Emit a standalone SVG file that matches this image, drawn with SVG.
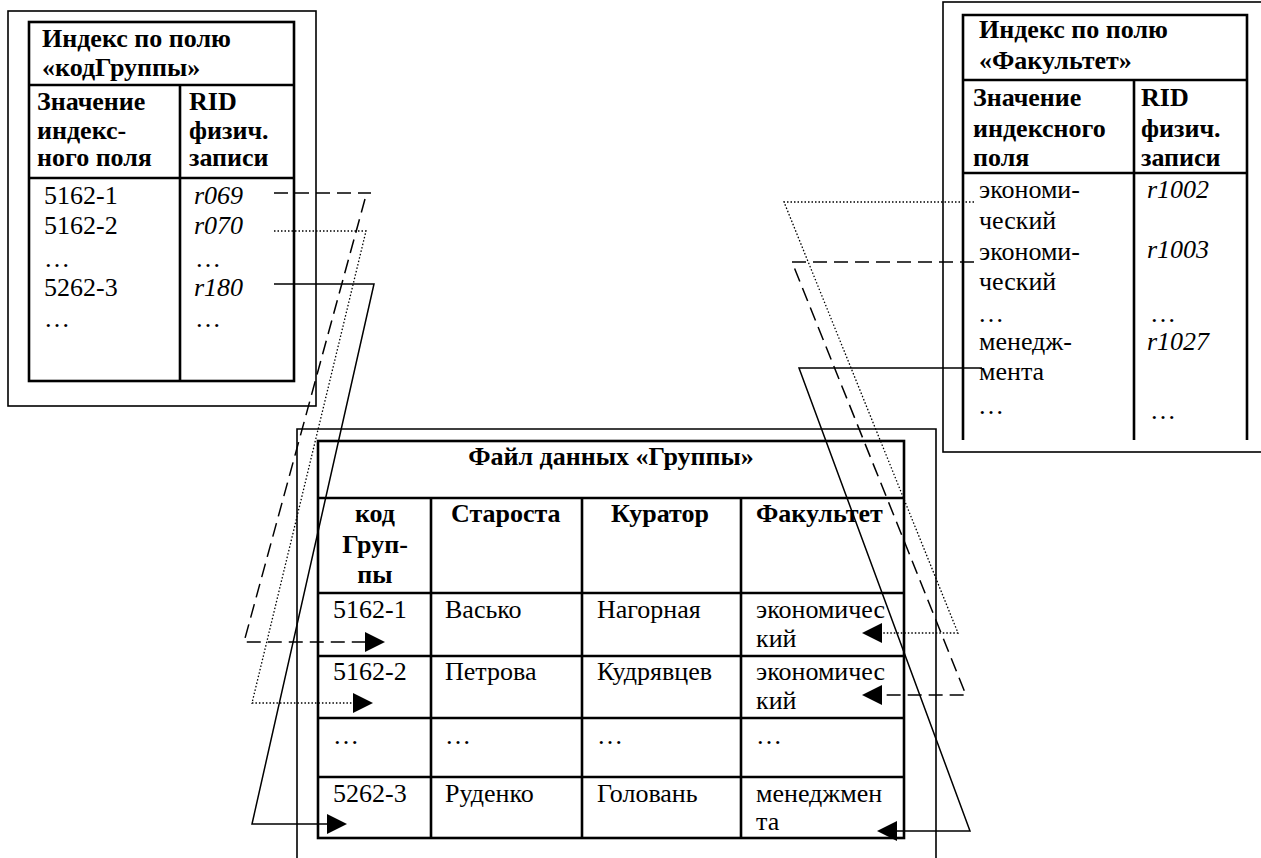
<svg xmlns="http://www.w3.org/2000/svg" width="1261" height="858" viewBox="0 0 1261 858">
<style>
text{font-family:"Liberation Serif","Times New Roman",serif;font-size:26px;fill:#000}
.b{font-weight:bold}
.i{font-style:italic}
.frame{fill:none;stroke:#000;stroke-width:1.6}
.tbl{fill:none;stroke:#000;stroke-width:2.6}
.c{fill:none;stroke:#000;stroke-width:1.5}
.dash{stroke-dasharray:14 7}
.dot{stroke-width:1.3;stroke-dasharray:1.5 2}
.ah{fill:#000;stroke:none}
</style>
<rect width="1261" height="858" fill="#fff"/>

<g id="index-kodGruppy">
<rect class="frame" x="8" y="11" width="308" height="395"/>
<rect class="tbl" x="29" y="22" width="265" height="359"/>
<line class="tbl" x1="29" y1="85" x2="294" y2="85"/>
<line class="tbl" x1="29" y1="178" x2="294" y2="178"/>
<line class="tbl" x1="180" y1="85" x2="180" y2="381"/>
<text class="b" x="42" y="47">Индекс по полю</text>
<text class="b" x="42" y="76">«кодГруппы»</text>
<text class="b" x="37" y="110">Значение</text>
<text class="b" x="37" y="139">индекс-</text>
<text class="b" x="37" y="166">ного поля</text>
<text class="b" x="189" y="110">RID</text>
<text class="b" x="189" y="139">физич.</text>
<text class="b" x="189" y="166">записи</text>
<text x="44" y="204">5162-1</text>
<text x="44" y="234">5162-2</text>
<text x="44" y="267">…</text>
<text x="44" y="296">5262-3</text>
<text x="44" y="327">…</text>
<text class="i" x="194" y="204">r069</text>
<text class="i" x="194" y="234">r070</text>
<text x="195" y="267">…</text>
<text class="i" x="194" y="296">r180</text>
<text x="195" y="327">…</text>
</g>

<g id="index-fakultet">
<rect class="frame" x="943" y="2" width="330" height="450"/>
<polyline class="tbl" points="963,440 963,15 1247,15 1247,440"/>
<line class="tbl" x1="963" y1="80" x2="1247" y2="80"/>
<line class="tbl" x1="963" y1="173" x2="1247" y2="173"/>
<line class="tbl" x1="1134" y1="80" x2="1134" y2="440"/>
<text class="b" x="979" y="38">Индекс по полю</text>
<text class="b" x="979" y="69">«Факультет»</text>
<text class="b" x="973" y="106">Значение</text>
<text class="b" x="973" y="137">индексного</text>
<text class="b" x="973" y="166">поля</text>
<text class="b" x="1141" y="106">RID</text>
<text class="b" x="1141" y="137">физич.</text>
<text class="b" x="1141" y="166">записи</text>
<text x="979" y="198">экономи-</text>
<text x="979" y="229">ческий</text>
<text x="979" y="260">экономи-</text>
<text x="979" y="290">ческий</text>
<text x="978" y="322">…</text>
<text x="979" y="350">менедж-</text>
<text x="979" y="380">мента</text>
<text x="978" y="414">…</text>
<text class="i" x="1147" y="198">r1002</text>
<text class="i" x="1147" y="258">r1003</text>
<text x="1150" y="322">…</text>
<text class="i" x="1147" y="350">r1027</text>
<text x="1150" y="419">…</text>
</g>

<g id="data-file-gruppy">
<polyline class="frame" points="297,858 297,429 936,429 936,858"/>
<rect class="tbl" x="318" y="441" width="586" height="397"/>
<line class="tbl" x1="318" y1="498" x2="904" y2="498"/>
<line class="tbl" x1="318" y1="593" x2="904" y2="593"/>
<line class="tbl" x1="318" y1="656" x2="904" y2="656"/>
<line class="tbl" x1="318" y1="718" x2="904" y2="718"/>
<line class="tbl" x1="318" y1="777" x2="904" y2="777"/>
<line class="tbl" x1="431" y1="498" x2="431" y2="838"/>
<line class="tbl" x1="582" y1="498" x2="582" y2="838"/>
<line class="tbl" x1="741" y1="498" x2="741" y2="838"/>
<text class="b" x="611" y="465" text-anchor="middle">Файл данных «Группы»</text>
<text class="b" x="375" y="522" text-anchor="middle">код</text>
<text class="b" x="375" y="553" text-anchor="middle">Груп-</text>
<text class="b" x="375" y="583" text-anchor="middle">пы</text>
<text class="b" x="451" y="522">Староста</text>
<text class="b" x="611" y="522">Куратор</text>
<text class="b" x="756" y="522">Факультет</text>
<text x="333" y="618">5162-1</text>
<text x="445" y="618">Васько</text>
<text x="597" y="618">Нагорная</text>
<text x="756" y="618">экономичес</text>
<text x="756" y="647">кий</text>
<text x="333" y="680">5162-2</text>
<text x="445" y="680">Петрова</text>
<text x="597" y="680">Кудрявцев</text>
<text x="756" y="680">экономичес</text>
<text x="756" y="709">кий</text>
<text x="333" y="744">…</text>
<text x="445" y="744">…</text>
<text x="597" y="744">…</text>
<text x="756" y="744">…</text>
<text x="333" y="802">5262-3</text>
<text x="445" y="802">Руденко</text>
<text x="597" y="802">Головань</text>
<text x="756" y="802">менеджмен</text>
<text x="756" y="830">та</text>
</g>

<g id="connectors">
<path class="c dash" d="M274,193 H371"/>
<path class="c dash" d="M365,199 L244,642 H366"/>
<polygon class="ah" points="365,632 385,642 365,652"/>
<path class="c dot" d="M274,231 H366 L252,703 H354"/>
<polygon class="ah" points="353,693 373,703 353,713"/>
<path class="c" d="M274,284 H374 L252,824 H328"/>
<polygon class="ah" points="327,814 347,824 327,834"/>
<path class="c dot" d="M974,202 H784 L958,633 H881"/>
<polygon class="ah" points="882,623 862,633 882,643"/>
<path class="c dash" d="M974,262 H792 L966,695 H881"/>
<polygon class="ah" points="882,685 862,695 882,705"/>
<path class="c" d="M982,368 H799 L970,831 H896"/>
<polygon class="ah" points="897,821 877,831 897,841"/>
</g>
</svg>
